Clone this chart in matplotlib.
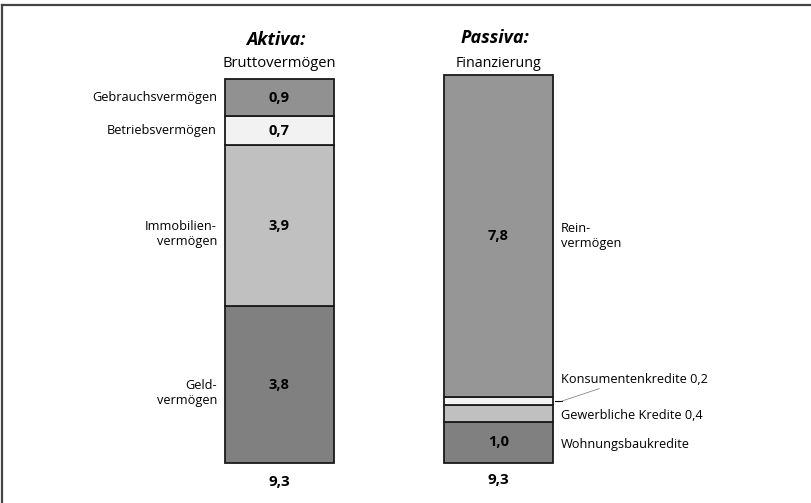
import matplotlib
matplotlib.use('AGG')
import matplotlib.pyplot as plt
from matplotlib.lines import Line2D

plt.rcParams['font.family'] = ['Open Sans', 'DejaVu Sans']

# Aktiva (von unten nach oben)
aktiva_names = ['Geld-\nvermögen', 'Immobilien-\nvermögen', 'Betriebsvermögen', 'Gebrauchsvermögen']
aktiva_values = [3.8, 3.9, 0.7, 0.9]
aktiva_colors = ['#808080', '#c0c0c0', '#f2f2f2', '#919191']
aktiva_total = '9,3'

# Passiva (von unten nach oben)
passiva_names = ['Wohnungsbaukredite', 'Gewerbliche Kredite 0,4', 'Konsumentenkredite 0,2', 'Rein-\nvermögen']
passiva_values = [1.0, 0.4, 0.2, 7.8]
passiva_colors = ['#808080', '#c0c0c0', '#f2f2f2', '#969696']
passiva_total = '9,3'
# nur diese Segmente bekommen eine Zahl im Balken
passiva_show = [True, False, False, True]


def fmt(v):
    return '{:.1f}'.format(v).replace('.', ',')


fig = plt.figure(figsize=(8.12, 5.03), dpi=100)
ax = fig.add_axes([0, 0, 1, 1])
ax.set_xlim(-1.276, 2.432)
ax.set_ylim(-0.969, 11.213)
ax.axis('off')

w = 0.5
fs = 9.2

# Aktiva-Balken
bottom = 0
for name, v, c in zip(aktiva_names, aktiva_values, aktiva_colors):
    ax.bar(0, v, bottom=bottom, width=w, color=c, edgecolor='#1a1a1a', linewidth=1.3)
    mid = bottom + v / 2
    ax.text(0, mid, fmt(v), ha='center', va='center', fontsize=10.5, fontweight='bold')
    off = 0.2 if '\n' in name else 0
    ax.text(-w / 2 - 0.035, mid - off, name, ha='right', va='center', fontsize=fs,
            linespacing=1.2)
    bottom += v
ax.text(0, -0.45, aktiva_total, ha='center', va='center', fontsize=11, fontweight='bold')

# Passiva-Balken
bottom = 0
for i, (name, v, c) in enumerate(zip(passiva_names, passiva_values, passiva_colors)):
    ax.bar(1, v, bottom=bottom, width=w, color=c, edgecolor='#1a1a1a', linewidth=1.3)
    mid = bottom + v / 2
    if passiva_show[i]:
        ax.text(1, mid, fmt(v), ha='center', va='center', fontsize=10.5, fontweight='bold')
    if name.startswith('Konsumenten'):
        # Hinweislinie zur schmalen Scheibe
        ax.plot([1 + w / 2 + 0.01, 1 + w / 2 + 0.04], [mid, mid], color='black', lw=0.8)
        ax.plot([1 + w / 2 + 0.04, 1 + w / 2 + 0.21], [mid, mid + 0.3], color='#888888', lw=0.6)
        ax.text(1 + w / 2 + 0.035, mid + 0.52, name, ha='left', va='center', fontsize=fs)
    else:
        off = 0.05 if '\n' not in name else 0
        ax.text(1 + w / 2 + 0.035, mid - off, name, ha='left', va='center', fontsize=fs,
                linespacing=1.2)
    bottom += v
ax.text(1, -0.42, passiva_total, ha='center', va='center', fontsize=11, fontweight='bold')

# Überschriften
ax.text(-0.015, 10.25, 'Aktiva:', ha='center', va='center', fontsize=13,
        fontweight='bold', style='italic')
ax.text(0, 9.68, 'Bruttovermögen', ha='center', va='center', fontsize=10.6)
ax.text(0.985, 10.29, 'Passiva:', ha='center', va='center', fontsize=13,
        fontweight='bold', style='italic')
ax.text(1, 9.68, 'Finanzierung', ha='center', va='center', fontsize=10.3)

# Rahmen oben und links
fig.add_artist(Line2D([0.003, 1], [0.991, 0.991], color='#444444', lw=1.6))
fig.add_artist(Line2D([0.003, 0.003], [0, 0.991], color='#444444', lw=1.6))

plt.savefig('out.png', dpi=100)
plt.close('all')
